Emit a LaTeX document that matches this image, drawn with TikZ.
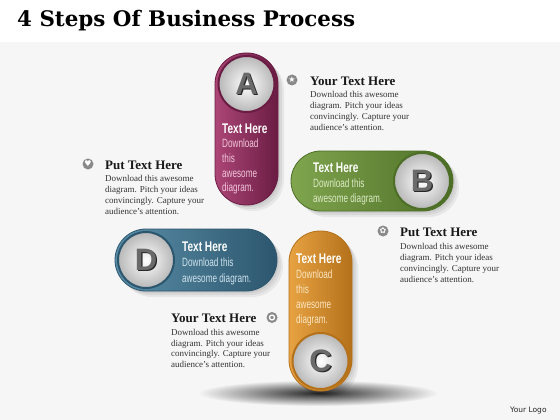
\documentclass[tikz,border=0pt]{standalone}
\usepackage{fontspec}
\setmainfont{Liberation Serif}
\newfontfamily\titlefont{DejaVu Serif}
\newfontfamily\condB[FakeStretch=0.72]{Liberation Sans}
\newfontfamily\condR[FakeStretch=0.68]{Liberation Sans}
\newfontfamily\letterfont{Liberation Sans}
\newfontfamily\logofont{DejaVu Sans}
\usetikzlibrary{shapes.geometric,shadings}
\definecolor{bgc}{HTML}{F6F6F6}
\definecolor{aL}{HTML}{AC4677}\definecolor{aM}{HTML}{9A3565}\definecolor{aD}{HTML}{6A1C43}\definecolor{aT}{HTML}{F2C6DA}
\definecolor{bL}{HTML}{80A54E}\definecolor{bM}{HTML}{6C933D}\definecolor{bD}{HTML}{4C6E26}\definecolor{bT}{HTML}{DDEBC6}
\definecolor{dL}{HTML}{5B8FA8}\definecolor{dM}{HTML}{487A93}\definecolor{dD}{HTML}{2C566E}\definecolor{dT}{HTML}{CFE2EC}
\definecolor{cL}{HTML}{E7A242}\definecolor{cM}{HTML}{D98F2B}\definecolor{cD}{HTML}{B4711A}\definecolor{cT}{HTML}{FBE6C2}
\definecolor{bul}{HTML}{8A8A8A}
\definecolor{lettc}{HTML}{6A6A6A}
\begin{document}
\begin{tikzpicture}[x=1pt,y=-1pt,
  disc/.style={circle,minimum size=56pt,inner sep=0pt,inner color=white,outer color=black!28,line width=2pt},
  lett/.style={font=\letterfont\bfseries\fontsize{31}{31}\selectfont,text=lettc,inner sep=0pt},
  lettsh/.style={font=\letterfont\bfseries\fontsize{31}{31}\selectfont,text=black!85,inner sep=0pt},
  cardhead/.style={font=\condB\bfseries\fontsize{14}{14}\selectfont,text=white,anchor=base west,inner sep=0pt},
  cardbody/.style={font=\condR\fontsize{12}{12}\selectfont,anchor=base west,inner sep=0pt},
  sidehead/.style={font=\bfseries\fontsize{13}{13}\selectfont,text=black!90,anchor=base west,inner sep=0pt},
  sidebody/.style={font=\fontsize{9}{11}\selectfont,text=black!80,anchor=base west,inner sep=0pt},
  bullet/.style={circle,fill=bul,minimum size=11pt,inner sep=0pt},
  icon/.style={font=\logofont\fontsize{8}{8}\selectfont,text=white,inner sep=0pt},
  pillshadow/.style={fill=black,opacity=0.06}
]
\useasboundingbox (0,0) rectangle (560,420);
\fill[bgc] (0,0) rectangle (560,420);
\fill[white] (0,0) rectangle (560,42);

% title
\node[anchor=base west,inner sep=0pt,font=\titlefont\bfseries\fontsize{21.4}{22}\selectfont] (title) at (17,27) {4 Steps Of Business Process};

% shadow under C
\shade[inner color=black!85,outer color=bgc] (318,393) ellipse [x radius=120, y radius=13];

% pill shadows
\foreach \o in {2,4,6}{
  \fill[pillshadow,rounded corners=31pt] (215+\o,53+\o) rectangle (278+\o,205+\o);
  \fill[pillshadow,rounded corners=30pt] (291+\o,151+\o) rectangle (453+\o,211+\o);
  \fill[pillshadow,rounded corners=31pt] (115+\o,229+\o) rectangle (277+\o,291+\o);
  \fill[pillshadow,rounded corners=31pt] (289+\o,231+\o) rectangle (352+\o,391+\o);
}

% pills
\shade[rounded corners=31pt,left color=aL,middle color=aM,right color=aD,draw=aD,line width=0.8pt] (215,53) rectangle (278,205);
\shade[rounded corners=30pt,left color=bL,middle color=bM,right color=bD,draw=bD,line width=0.8pt] (291,151) rectangle (453,211);
\shade[rounded corners=31pt,left color=dL,middle color=dM,right color=dD,draw=dD,line width=0.8pt] (115,229) rectangle (277,291);
\shade[rounded corners=31pt,left color=cL,middle color=cM,right color=cD,draw=cD,line width=0.8pt] (289,231) rectangle (352,391);

% discs
\node[disc,draw=aD] (cA) at (246.5,84) {};
\node[disc,draw=bD] (cB) at (422,181) {};
\node[disc,draw=dD] (cD) at (146,260) {};
\node[disc,draw=cD] (cC) at (320.5,361) {};
\foreach \n/\t in {cA/A,cB/B,cD/D,cC/C}{
  \node[lettsh] at ([shift={(1.3,1)}]\n) {\t};
  \node[lett] (l\n) at (\n) {\t};
}

% card texts A
\node[cardhead] (ah) at (222,133) {Text Here};
\node[cardbody,text=aT] (a1) at (222,147.5) {Download};
\node[cardbody,text=aT] (a2) at (222,162) {this};
\node[cardbody,text=aT] (a3) at (222,177) {awesome};
\node[cardbody,text=aT] (a4) at (222,191) {diagram.};
% B
\node[cardhead] (bh) at (313,172) {Text Here};
\node[cardbody,text=bT] (b1) at (313,187) {Download this};
\node[cardbody,text=bT] (b2) at (313,202) {awesome diagram.};
% D
\node[cardhead] (dh) at (182,251) {Text Here};
\node[cardbody,text=dT] (d1) at (182,266.5) {Download this};
\node[cardbody,text=dT] (d2) at (182,282) {awesome diagram.};
% C
\node[cardhead] (ch) at (296,263) {Text Here};
\node[cardbody,text=cT] (c1) at (296,278) {Download};
\node[cardbody,text=cT] (c2) at (296,293) {this};
\node[cardbody,text=cT] (c3) at (296,308) {awesome};
\node[cardbody,text=cT] (c4) at (296,323) {diagram.};

% side blocks
% 1
\node[bullet] (u1) at (292,80) {};
\node[icon] at (u1) {★};
\node[sidehead] (h1) at (310,85) {Your Text Here};
\node[sidebody] (t11) at (310,97) {Download this awesome};
\node[sidebody] (t12) at (310,108.3) {diagram. Pitch your ideas};
\node[sidebody] (t13) at (310,119.6) {convincingly. Capture your};
\node[sidebody] (t14) at (310,130.9) {audience's attention.};
% 2
\node[bullet] (u2) at (88,164) {};
\node[icon] at (u2) {♥};
\node[sidehead] (h2) at (105,169) {Put Text Here};
\node[sidebody] (t21) at (105,181) {Download this awesome};
\node[sidebody] (t22) at (105,192) {diagram. Pitch your ideas};
\node[sidebody] (t23) at (105,203) {convincingly. Capture your};
\node[sidebody] (t24) at (105,214) {audience's attention.};
% 3
\node[bullet] (u3) at (383,231) {};
\node[icon] at (u3) {✿};
\node[sidehead] (h3) at (400,236) {Put Text Here};
\node[sidebody] (t31) at (400,249) {Download this awesome};
\node[sidebody] (t32) at (400,260) {diagram. Pitch your ideas};
\node[sidebody] (t33) at (400,271) {convincingly. Capture your};
\node[sidebody] (t34) at (400,282) {audience's attention.};
% 4
\node[bullet] (u4) at (272,317.5) {};
\node[circle,draw=white,line width=1.3pt,minimum size=5pt,inner sep=0pt] at (u4) {};
\node[sidehead] (h4) at (171,322) {Your Text Here};
\node[sidebody] (t41) at (171,335) {Download this awesome};
\node[sidebody] (t42) at (171,346) {diagram. Pitch your ideas};
\node[sidebody] (t43) at (171,356.5) {convincingly. Capture your};
\node[sidebody] (t44) at (171,367) {audience's attention.};

% logo
\node[anchor=base west,inner sep=0pt,font=\logofont\fontsize{7.5}{8}\selectfont,text=black!85] (logo) at (510,412) {Your Logo};
\end{tikzpicture}
\end{document}
